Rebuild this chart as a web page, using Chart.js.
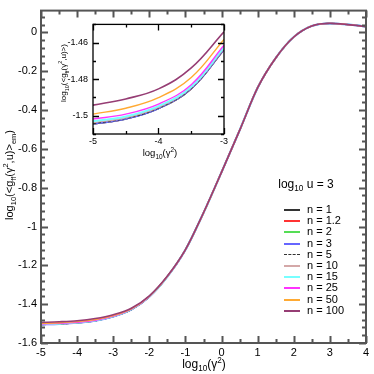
<!DOCTYPE html>
<html><head><meta charset="utf-8">
<script src="https://cdn.jsdelivr.net/npm/chart.js@4/dist/chart.umd.min.js"></script>
<style>
html,body{margin:0;padding:0;background:#fff;}
#wrap{position:relative;width:374px;height:374px;font-family:"Liberation Sans",Arial,sans-serif;color:#000;overflow:hidden;}
canvas{position:absolute;}
.t{position:absolute;white-space:nowrap;line-height:1;}
.c{transform:translate(-50%,-50%);}
.r{transform:translate(-50%,-50%) rotate(-90deg);}
sub,sup{font-size:68%;line-height:0;}
.row{position:absolute;left:284px;height:11px;width:80px;font-size:11px;}
.row .ln{position:absolute;left:0;top:5px;width:16px;height:0;}
.row .tx{position:absolute;left:23px;top:0;line-height:11px;}
</style></head>
<body>
<div id="wrap">
<canvas id="main" width="374" height="374" style="left:0;top:0"></canvas>
<canvas id="inset" width="180" height="150" style="left:50px;top:14px"></canvas>
<div class="t r" style="left:9px;top:175px;font-size:11px;">log<sub>10</sub>(&lt;g<sub>ff</sub>(γ<sup>2</sup>,u)&gt;<sub>em</sub>)</div>
<div class="t c" style="left:204px;top:364px;font-size:12px;">log<sub>10</sub>(γ<sup>2</sup>)</div>
<div class="t r" style="left:64px;top:73px;font-size:8px;">log<sub>10</sub>(&lt;g<sub>ff</sub>(γ<sup>2</sup>,u)&gt;)</div>
<div class="t c" style="left:160px;top:153px;font-size:9.5px;">log<sub>10</sub>(γ<sup>2</sup>)</div>
<div class="t c" style="left:306px;top:184px;font-size:12px;">log<sub>10</sub> u = 3</div>
<div id="legend"></div>
</div>
<script>
// ---- data ----
const nLabels = ["n = 1","n = 1.2","n = 2","n = 3","n = 5","n = 10","n = 15","n = 25","n = 50","n = 100"];
const xMain = [-5,-4.5,-4,-3.5,-3,-2.5,-2,-1.5,-1,-0.5,0,0.5,1,1.5,2,2.5,3,3.5,4];
const main_n1   = [-1.5046,-1.5018,-1.4961,-1.4853,-1.4639,-1.428,-1.362,-1.258,-1.120,-0.930,-0.720,-0.505,-0.285,-0.132,-0.024,0.033,0.046,0.040,0.030];
const main_n1_2 = [-1.5046,-1.5017,-1.4960,-1.4852,-1.4638,-1.428,-1.362,-1.258,-1.120,-0.930,-0.720,-0.505,-0.285,-0.132,-0.024,0.033,0.046,0.040,0.030];
const main_n2   = [-1.5045,-1.5017,-1.4960,-1.4851,-1.4637,-1.428,-1.362,-1.258,-1.120,-0.930,-0.720,-0.505,-0.285,-0.132,-0.024,0.033,0.046,0.040,0.030];
const main_n3   = [-1.5044,-1.5016,-1.4959,-1.4850,-1.4636,-1.428,-1.362,-1.258,-1.120,-0.930,-0.720,-0.505,-0.285,-0.132,-0.024,0.033,0.046,0.040,0.030];
const main_n5   = [-1.5043,-1.5015,-1.4958,-1.4849,-1.4635,-1.428,-1.362,-1.258,-1.120,-0.930,-0.720,-0.505,-0.285,-0.132,-0.024,0.033,0.046,0.040,0.030];
const main_n10  = [-1.5038,-1.5011,-1.4954,-1.4846,-1.4631,-1.427,-1.362,-1.258,-1.120,-0.930,-0.720,-0.505,-0.285,-0.132,-0.024,0.033,0.046,0.040,0.030];
const main_n15  = [-1.5030,-1.5004,-1.4947,-1.4841,-1.4625,-1.427,-1.361,-1.258,-1.120,-0.930,-0.720,-0.505,-0.285,-0.132,-0.024,0.033,0.046,0.040,0.030];
const main_n25  = [-1.5018,-1.4991,-1.4936,-1.4830,-1.4614,-1.426,-1.360,-1.257,-1.120,-0.930,-0.720,-0.505,-0.285,-0.132,-0.024,0.033,0.046,0.040,0.030];
const main_n50  = [-1.4991,-1.4959,-1.4901,-1.4791,-1.4582,-1.424,-1.359,-1.256,-1.119,-0.930,-0.720,-0.505,-0.285,-0.132,-0.024,0.033,0.046,0.040,0.030];
const main_n100 = [-1.4942,-1.4908,-1.4853,-1.4738,-1.4540,-1.421,-1.357,-1.255,-1.119,-0.929,-0.720,-0.505,-0.285,-0.132,-0.024,0.033,0.046,0.040,0.030];

const xInset = [-5,-4.5,-4,-3.5,-3];
const ins_n1   = [-1.5046,-1.5018,-1.4961,-1.4853,-1.4639];
const ins_n1_2 = [-1.5046,-1.5017,-1.4960,-1.4852,-1.4638];
const ins_n2   = [-1.5045,-1.5017,-1.4960,-1.4851,-1.4637];
const ins_n3   = [-1.5044,-1.5016,-1.4959,-1.4850,-1.4636];
const ins_n5   = [-1.5043,-1.5015,-1.4958,-1.4849,-1.4635];
const ins_n10  = [-1.5038,-1.5011,-1.4954,-1.4846,-1.4631];
const ins_n15  = [-1.5030,-1.5004,-1.4947,-1.4841,-1.4625];
const ins_n25  = [-1.5018,-1.4991,-1.4936,-1.4830,-1.4614];
const ins_n50  = [-1.4991,-1.4959,-1.4901,-1.4791,-1.4582];
const ins_n100 = [-1.4942,-1.4908,-1.4853,-1.4738,-1.4540];

const mainXTicks = [-5,-4,-3,-2,-1,0,1,2,3,4];
const mainXTickLabels = ["-5","-4","-3","-2","-1","0","1","2","3","4"];
const mainYTicks = [-1.6,-1.4,-1.2,-1,-0.8,-0.6,-0.4,-0.2,0];
const mainYTickLabels = ["-1.6","-1.4","-1.2","-1","-0.8","-0.6","-0.4","-0.2","0"];
const insXTicks = [-5,-4,-3];
const insXTickLabels = ["-5","-4","-3"];
const insYTicks = [-1.5,-1.48,-1.46];
const insYTickLabels = ["-1.5","-1.48","-1.46"];

// ---- styles ----
const colors = ["#333333","#ff3333","#55dd55","#6666ff","#333333","#d4a8a8","#77ffff","#ff33ff","#ffaa33","#963d74"];
const widths = [1.4,1.4,1.4,2,1.2,1.4,2,1.4,1.4,1.6];
const dashes = [[],[],[],[],[3,2],[],[],[],[],[]];

const mainSeries = [main_n1,main_n1_2,main_n2,main_n3,main_n5,main_n10,main_n15,main_n25,main_n50,main_n100];
const insSeries = [ins_n1,ins_n1_2,ins_n2,ins_n3,ins_n5,ins_n10,ins_n15,ins_n25,ins_n50,ins_n100];

function makeDatasets(xs, series, smooth){
  return series.map((ys,i)=>Object.assign({
    label:nLabels[i],
    data: xs.map((x,k)=>({x:x,y:ys[k]})),
    borderColor:colors[i], borderWidth:widths[i], borderDash:dashes[i],
    pointRadius:0, fill:false,
    order: series.length-1-i
  }, smooth));
}

function framePlugin(o){
  return {
    id:'frame',
    afterDatasetsDraw(chart){
      const {ctx, chartArea:a, scales:{x,y}} = chart;
      ctx.save();
      ctx.strokeStyle=o.color; ctx.lineWidth=o.lw;
      ctx.strokeRect(a.left,a.top,a.right-a.left,a.bottom-a.top);
      ctx.beginPath();
      const xt=(v,len)=>{const p=Math.round(x.getPixelForValue(v))+0.5;
        ctx.moveTo(p,a.bottom);ctx.lineTo(p,a.bottom-len);ctx.moveTo(p,a.top);ctx.lineTo(p,a.top+len);};
      const yt=(v,len)=>{const p=Math.round(y.getPixelForValue(v))+0.5;
        ctx.moveTo(a.left,p);ctx.lineTo(a.left+len,p);ctx.moveTo(a.right,p);ctx.lineTo(a.right-len,p);};
      for(let v=x.min; v<=x.max+1e-9; v+=o.xMinor){
        const isMaj = o.xMajor.some(m=>Math.abs(m-v)<1e-6);
        xt(v,isMaj?o.maj:o.min);
      }
      for(let k=0;;k++){
        const v=o.yStart+k*o.yMinor; if(v>y.max+1e-9)break;
        if(v<y.min-1e-9)continue;
        const isMaj = o.yMajor.some(m=>Math.abs(m-v)<1e-6);
        yt(v,isMaj?o.maj:o.min);
      }
      ctx.stroke();
      ctx.restore();
    }
  };
}

function axis(min,max,ticks,labels,fontSize,pad,fitProp,fitVal){
  return {
    type:'linear', min:min, max:max,
    grid:{display:false, drawTicks:false}, border:{display:false},
    afterBuildTicks:(s)=>{s.ticks=ticks.map(v=>({value:v}));},
    afterFit:(s)=>{s[fitProp]=fitVal;},
    ticks:{font:{family:'"Liberation Sans", Arial, sans-serif',size:fontSize},color:'#000',padding:pad,
      maxRotation:0,autoSkip:false,
      callback:(v)=>{const i=ticks.findIndex(t=>Math.abs(t-v)<1e-9);return i>=0?labels[i]:'';}}
  };
}

new Chart(document.getElementById('main'),{
  type:'line',
  data:{datasets:makeDatasets(xMain,mainSeries,{cubicInterpolationMode:'monotone'})},
  options:{
    responsive:false, animation:false, events:[],
    layout:{padding:{top:7,right:8,left:0,bottom:0}},
    plugins:{legend:{display:false},tooltip:{enabled:false}},
    scales:{
      x:axis(-5,4,mainXTicks,mainXTickLabels,11,3,'height',31),
      y:axis(-1.6,0.112,mainYTicks,mainYTickLabels,11,4,'width',41)
    }
  },
  plugins:[framePlugin({color:'#555',lw:2,maj:7,min:4,xMinor:0.5,xMajor:mainXTicks,yStart:-1.6,yMinor:0.04,yMajor:mainYTicks})]
});

new Chart(document.getElementById('inset'),{
  type:'line',
  data:{datasets:makeDatasets(xInset,insSeries,{tension:0.4})},
  options:{
    responsive:false, animation:false, events:[],
    layout:{padding:{top:8,right:6,left:0,bottom:0}},
    plugins:{legend:{display:false},tooltip:{enabled:false}},
    scales:{
      x:axis(-5,-3,insXTicks,insXTickLabels,9,2,'height',30),
      y:axis(-1.51,-1.45,insYTicks,insYTickLabels,9,5,'width',43)
    }
  },
  plugins:[framePlugin({color:'#000',lw:1.3,maj:6,min:3,xMinor:0.5,xMajor:insXTicks,yStart:-1.51,yMinor:0.01,yMajor:insYTicks})]
});

// legend (HTML)
const leg=document.getElementById('legend');
nLabels.forEach((lab,i)=>{
  const r=document.createElement('div'); r.className='row';
  r.style.top=(204+i*11.2)+'px';
  const ln=document.createElement('div'); ln.className='ln';
  ln.style.borderTop=(dashes[i].length?'1px dashed ':'2px solid ')+colors[i];
  const tx=document.createElement('div'); tx.className='tx'; tx.textContent=lab;
  r.appendChild(ln); r.appendChild(tx); leg.appendChild(r);
});
</script>
</body></html>
